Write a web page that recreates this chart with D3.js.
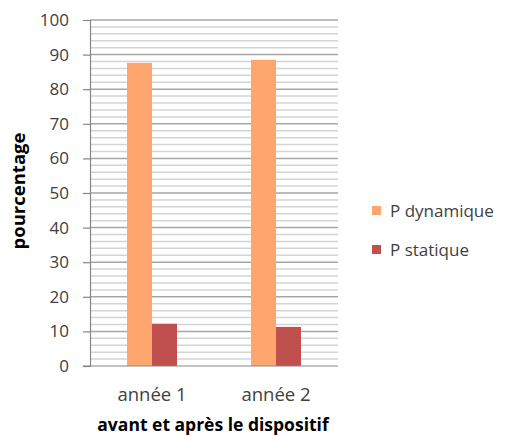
<!DOCTYPE html>
<html><head><meta charset="utf-8">
<script src="https://cdn.jsdelivr.net/npm/d3@7"></script>
<style>html,body{margin:0;padding:0;background:#fff;}svg{display:block;font-family:"Open Sans",sans-serif;}</style>
</head><body><svg id="c" width="505" height="436"></svg>
<script>
const categories = ["année 1", "année 2"];
const seriesNames = ["P dynamique", "P statique"];
const pDynamique = [87.6, 88.5];
const pStatique = [12.2, 11.3];
const yTicks = [0, 10, 20, 30, 40, 50, 60, 70, 80, 90, 100];
const minorTicks = d3.range(0, 101, 2);
const colors = ["#FFA66F", "#C0504D"];

const svg = d3.select("#c");
const x0 = d3.scaleBand().domain(categories).range([90, 338]);
const x1 = d3.scaleBand().domain(seriesNames).range([0, 50]);
const y = d3.scaleLinear().domain([0, 100]).range([366, 20]);

// minor grid
svg.append("g").selectAll("line").data(minorTicks.filter(d => d % 10 !== 0)).join("line")
  .attr("x1", 90).attr("x2", 338).attr("y1", d => y(d)).attr("y2", d => y(d))
  .attr("stroke", "#d4d4d4").attr("stroke-width", 1.5);
// major grid
svg.append("g").selectAll("line").data(yTicks.filter(d => d > 0)).join("line")
  .attr("x1", 90).attr("x2", 338).attr("y1", d => y(d)).attr("y2", d => y(d))
  .attr("stroke", "#a6a6a6").attr("stroke-width", 1.5);

const data = categories.map((c, i) => ({cat: c, vals: [pDynamique[i], pStatique[i]]}));
svg.append("g").selectAll("g").data(data).join("g")
  .attr("transform", d => `translate(${x0(d.cat) + x0.bandwidth() / 2 - 25},0)`)
  .selectAll("rect").data(d => d.vals.map((v, j) => ({s: seriesNames[j], v, j}))).join("rect")
  .attr("x", d => x1(d.s)).attr("width", x1.bandwidth())
  .attr("y", d => y(d.v)).attr("height", d => y(0) - y(d.v))
  .attr("fill", d => colors[d.j]);

// y axis
const yAxis = d3.axisLeft(y).tickValues(yTicks).tickSize(7).tickPadding(14);
const ga = svg.append("g").attr("transform", "translate(90,0)").call(yAxis);
ga.select(".domain").attr("stroke", "#868686").attr("stroke-width", 1.2);
ga.selectAll(".tick line").attr("stroke", "#868686").attr("stroke-width", 1.2);
ga.selectAll(".tick text").attr("font-size", 17).attr("fill", "#404040").attr("font-family", "Open Sans");

// x axis
const xAxis = d3.axisBottom(x0).tickSize(0).tickPadding(22);
const gx = svg.append("g").attr("transform", "translate(0,366)").call(xAxis);
gx.select(".domain").attr("stroke", "#868686").attr("stroke-width", 1.2).attr("d", "M83,0H338");
gx.selectAll(".tick text").attr("font-size", 18.5).attr("fill", "#404040").attr("font-family", "Open Sans");

// axis titles
svg.append("text").attr("transform", "translate(25,191) rotate(-90)").attr("text-anchor", "middle")
  .attr("font-weight", "bold").attr("font-size", 18.5).attr("fill", "#000").text("pourcentage");
svg.append("text").attr("x", 213).attr("y", 431).attr("text-anchor", "middle")
  .attr("font-weight", "bold").attr("font-size", 17.5).attr("fill", "#000").text("avant et après le dispositif");

// legend
const lg = svg.append("g").selectAll("g").data(seriesNames).join("g")
  .attr("transform", (d, i) => `translate(372,${211 + i * 39})`);
lg.append("rect").attr("x", 0).attr("y", -5).attr("width", 9).attr("height", 9).attr("fill", (d, i) => colors[i]);
lg.append("text").attr("x", 18).attr("y", 6).attr("font-size", 17).attr("fill", "#404040").text(d => d);
</script></body></html>
